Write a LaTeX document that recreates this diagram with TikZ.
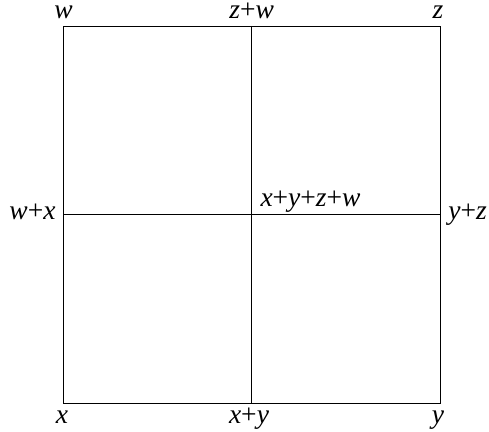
\documentclass[tikz,border=0pt]{standalone}
\usepackage{fontspec}
\setmainfont{Liberation Serif}
\newcommand\iv[1]{\textit{#1}}
\begin{document}
\begin{tikzpicture}[x=1pt,y=1pt,
  gridline/.style={line width=0.9pt, black},
  lab/.style={inner sep=0pt, anchor=base, font=\fontsize{27.5}{30}\selectfont},
  toplab/.style={lab, text height=13pt}]
\useasboundingbox (0,0) rectangle (489,431);
% grid coordinates (y measured upward)
\coordinate (TL) at (63.5,405);
\coordinate (TM) at (251.7,405);
\coordinate (TR) at (440.5,405);
\coordinate (ML) at (63.5,217);
\coordinate (MM) at (251.7,217);
\coordinate (MR) at (440.5,217);
\coordinate (BL) at (63.5,28);
\coordinate (BM) at (251.7,28);
\coordinate (BR) at (440.5,28);
\draw[gridline] (TL) -- (TR) -- (BR) -- (BL) -- cycle;
\draw[gridline] (TM) -- (BM);
\draw[gridline] (ML) -- (MR);
% labels
\node[toplab] (lw) at (63.5,412.5) {\iv{w}};
\node[toplab] (lzw) at (251.7,412.5) {\iv{z}+\iv{w}};
\node[toplab] (lz) at (438,412.5) {\iv{z}};
\node[lab] (lwx) at (32.5,211.5) {\iv{w}+\iv{x}};
\node[lab] (lyz) at (467.5,211.5) {\iv{y}+\iv{z}};
\node[lab] (lxyzw) at (310.5,224.5) {\iv{x}+\iv{y}+\iv{z}+\iv{w}};
\node[lab] (lx) at (62,8) {\iv{x}};
\node[lab] (lxy) at (249,8) {\iv{x}+\iv{y}};
\node[lab] (ly) at (438,8) {\iv{y}};
\end{tikzpicture}
\end{document}
